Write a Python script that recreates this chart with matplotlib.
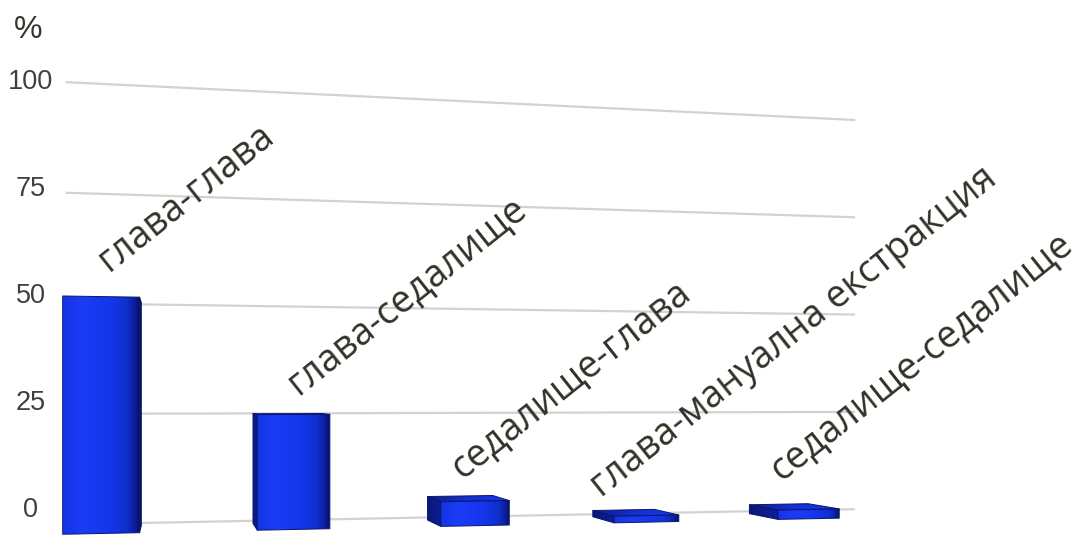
import numpy as np
import matplotlib
matplotlib.use("Agg")
import matplotlib.pyplot as plt
from matplotlib.patches import Polygon
from matplotlib.colors import LinearSegmentedColormap

# ---- data -------------------------------------------------------------
categories = ["глава-глава", "глава-седалище", "седалище-глава",
              "глава-мануална екстракция", "седалище-седалище"]
values = [50, 25, 5.5, 1.5, 2.2]
y_ticks = [0, 25, 50, 75, 100]
y_tick_labels = ["0", "25", "50", "75", "100"]
y_unit = "%"

# ---- canvas -----------------------------------------------------------
W, H = 1082, 539
fig = plt.figure(figsize=(W / 100, H / 100), dpi=100)
ax = fig.add_axes([0, 0, 1, 1])
ax.axis("off")

# ---- simple pinhole camera for the 3-D scene ---------------------------
FOCAL = 1500.0
YAW = np.radians(13.8)
CAM = np.array([0.0, 28.7, 355.0])
PRINCIPAL = (541.0, 397.5)

WALL_X = (-23.5, 170.3)        # extent of the back wall along the category axis
SLOT0, SLOT = -14.6, 40.2      # first bar centre and spacing
HALF_W = 7.8                   # half bar width
Z_BACK, Z_FRONT = 7.4, 25.4    # bar depth (wall is at z = 0)

# pixel nudges of the rotated category labels from the top of their bar
LABEL_NUDGE = [(7, -25), (4, -19), (-13, -22), (-45, -18), (-27, -28)]


def project(X, Y, Z):
    px = np.asarray(X, float) - CAM[0]
    py = np.asarray(Y, float) - CAM[1]
    pz = np.asarray(Z, float) - CAM[2]
    c, s = np.cos(YAW), np.sin(YAW)
    xc = px * c + pz * s
    d = px * s - pz * c
    return PRINCIPAL[0] + FOCAL * xc / d, PRINCIPAL[1] - FOCAL * py / d


def shaded_face(pts, stops, z, edge="#0a1670"):
    xs, ys = project(*pts)
    poly = Polygon(np.column_stack([xs, ys]), closed=True, facecolor="none",
                   edgecolor=edge, linewidth=0.7, joinstyle="round", zorder=z + 0.1)
    ax.add_patch(poly)
    cmap = LinearSegmentedColormap.from_list("face", stops)
    grad = np.linspace(0, 1, 256).reshape(1, -1)
    im = ax.imshow(grad, cmap=cmap, extent=(xs.min(), xs.max(), ys.max(), ys.min()),
                   aspect="auto", interpolation="bilinear", zorder=z)
    im.set_clip_path(poly)


# ---- gridlines on the back wall ---------------------------------------
for t in y_ticks:
    gx, gy = project(list(WALL_X), [t, t], [0, 0])
    ax.plot(gx, gy, color="#d2d2d2", linewidth=1.6, solid_capstyle="butt", zorder=1)

# ---- value axis labels --------------------------------------------------
LABEL_X, LABEL_Y0, LABEL_SCALE = 31, 510, 4.28
for t, lab in zip(y_ticks, y_tick_labels):
    ax.text(LABEL_X, LABEL_Y0 - LABEL_SCALE * t, lab, ha="center", va="center",
            fontsize=19.5, family="Liberation Sans", color="#404040", zorder=5)
ax.text(28, 30, y_unit, ha="center", va="center", fontsize=23,
        family="Liberation Sans", color="#33362c", zorder=5)

# ---- bars ---------------------------------------------------------------
front_cols = [(0.0, "#1434e4"), (0.25, "#1a3cf5"), (0.6, "#1536ec"),
              (0.82, "#1030d0"), (0.93, "#0b1f9c"), (1.0, "#071060")]
top_cols = ["#0d1c8e", "#1430d0", "#1838ec"]
left_cols = ["#0a1878", "#0d1f96"]
right_cols = ["#0a1668", "#060d48"]

for i, v in enumerate(values):
    xc = SLOT0 + SLOT * i
    x0, x1 = xc - HALF_W, xc + HALF_W
    # side faces
    if CAM[0] < x0:
        shaded_face(([x0, x0, x0, x0], [0, v, v, 0], [Z_BACK, Z_BACK, Z_FRONT, Z_FRONT]),
                    left_cols, 2)
    if CAM[0] > x1:
        shaded_face(([x1, x1, x1, x1], [0, v, v, 0], [Z_FRONT, Z_FRONT, Z_BACK, Z_BACK]),
                    right_cols, 2)
    if CAM[1] > v:
        shaded_face(([x0, x1, x1, x0], [v, v, v, v], [Z_BACK, Z_BACK, Z_FRONT, Z_FRONT]),
                    top_cols, 2)
    shaded_face(([x0, x1, x1, x0], [0, 0, v, v], [Z_FRONT] * 4), front_cols, 3)

    # category label above the bar
    lx, ly = project(xc, v, Z_FRONT)
    dx, dy = LABEL_NUDGE[i]
    ax.text(lx + dx, ly + dy, categories[i], rotation=38.5, rotation_mode="anchor",
            ha="left", va="baseline", fontsize=27, family="Open Sans",
            color="#2f3327", zorder=6)

ax.set_xlim(0, W)
ax.set_ylim(H, 0)
fig.savefig("out.png", dpi=100, facecolor="white")
